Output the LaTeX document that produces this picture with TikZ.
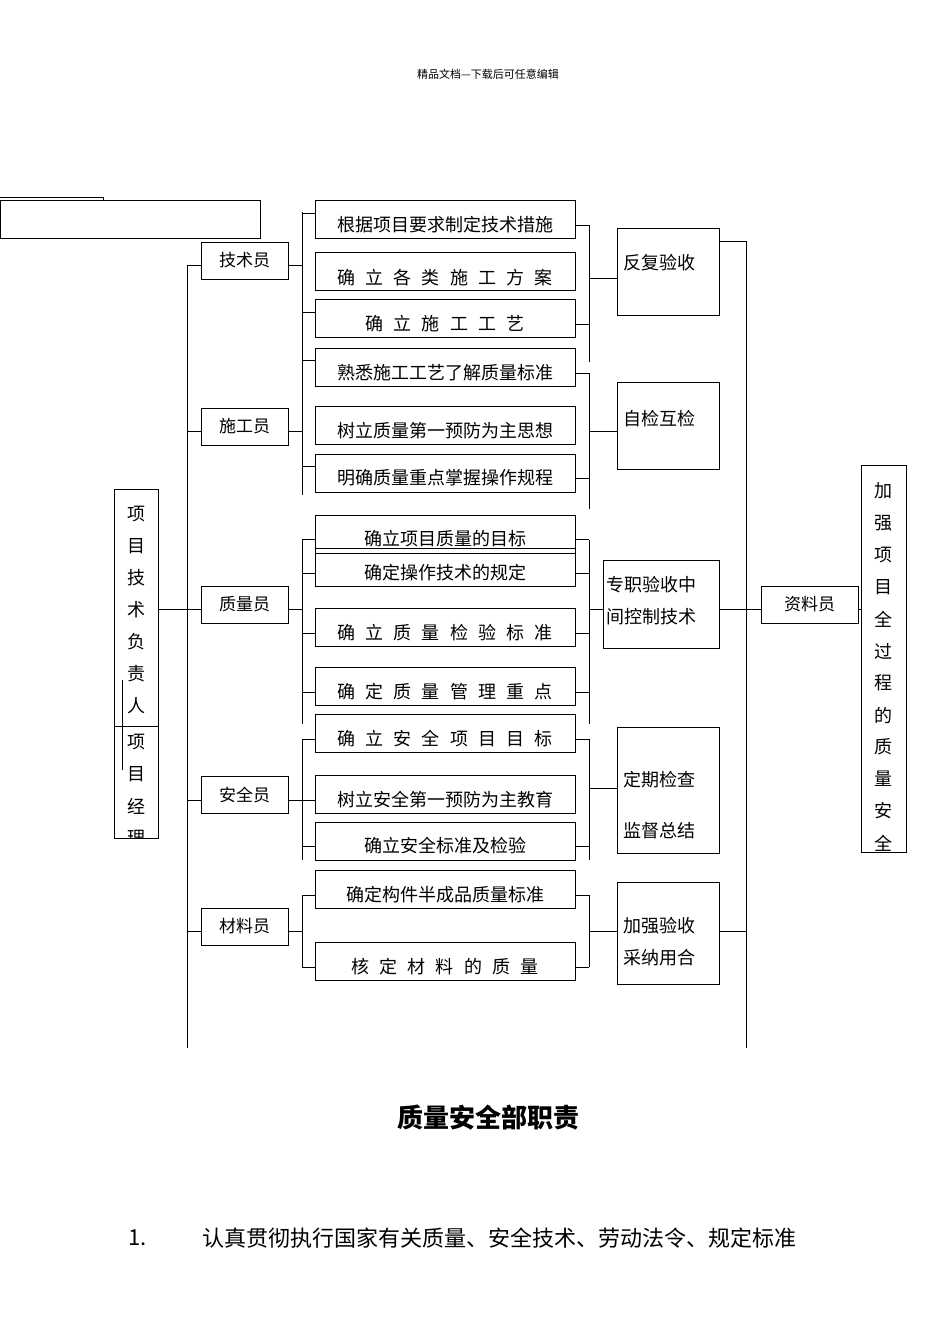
\documentclass[tikz,border=0pt]{standalone}
\usepackage{fontspec}
\setmainfont{Noto Sans CJK SC}
\newfontfamily\cjkls[LetterSpace=57]{Noto Sans CJK SC}
\begin{document}
\begin{tikzpicture}[x=1pt,y=-1pt,line width=0.8pt,
  tbox/.style={draw,minimum width=260pt,minimum height=38pt,inner sep=0},
  rbox/.style={draw,minimum width=87pt,minimum height=37pt,inner sep=0,font=\fontsize{17}{17}\selectfont},
  tt/.style={inner sep=0,font=\fontsize{18}{18}\selectfont},
  ts/.style={inner sep=0,font=\fontsize{18}{18}\cjkls},
  vt/.style={inner sep=0,font=\fontsize{18}{18}\selectfont}]
\useasboundingbox[fill=white] (0,0) rectangle (950,1344);
\newcommand\task[5]{\node[tbox] (#1) at (445,#2+19) {}; \node[#4] (#1t) at (445,#3) {#5};}
\node[inner sep=0,font=\fontsize{11}{11}\selectfont] (hdr) at (488,74) {精品文档---下载后可任意编辑};
% top-left boxes
\draw (0,197) -- (103,197) -- (103,200);
\node[draw,minimum width=260pt,minimum height=38pt,inner sep=0] (tl) at (130,219) {};
% trunks
\draw (187,265) -- (187,1048);
\draw (746,241) -- (746,1048);
% left vertical boxes
\node[draw,minimum width=44pt,minimum height=237pt,inner sep=0] (pm1) at (136,607.5) {};
\node[draw,minimum width=44pt,minimum height=112pt,inner sep=0] (pm2) at (136,782) {};
\foreach \c [count=\i from 0] in {项,目,技,术,负,责,人} \node[vt] (a\i) at (136,514+32*\i) {\c};
\begin{scope}
\clip (114,726) rectangle (158,838);
\foreach \c [count=\i from 0] in {项,目,经,理} \node[vt] (b\i) at (136,742+32*\i) {\c};
\end{scope}
\draw[line width=0.6pt] (122,680) -- (122,770);
\draw (pm1.east |- 0,609) -- (187,609);
% roles
\node[rbox] (r1) at (244.5,260.5) {技术员};
\node[rbox] (r2) at (244.5,426.5) {施工员};
\node[rbox] (r3) at (244.5,604.5) {质量员};
\node[rbox] (r4) at (244.5,794.5) {安全员};
\node[rbox] (r5) at (244.5,926.5) {材料员};
\foreach \r/\y in {r1/265,r2/431,r3/609,r4/800,r5/931} {\draw (187,\y) -- (\r.west |- 0,\y); \draw (\r.east |- 0,\y) -- (302,\y);}
% tasks
\task{t1}{200}{225}{tt}{根据项目要求制定技术措施}
\task{t2}{252}{278}{ts}{确立各类施工方案}
\task{t3}{299}{324}{ts}{确立施工工艺}
\task{t4}{348}{373}{tt}{熟悉施工工艺了解质量标准}
\task{t5}{406}{431}{tt}{树立质量第一预防为主思想}
\task{t6}{454}{478}{tt}{明确质量重点掌握操作规程}
\task{t7}{515}{539}{tt}{确立项目质量的目标}
\task{t8}{548}{573}{tt}{确定操作技术的规定}
\task{t9}{608}{633}{ts}{确立质量检验标准}
\task{t10}{667}{692}{ts}{确定质量管理重点}
\task{t11}{714}{739}{ts}{确立安全项目目标}
\task{t12}{775}{800}{tt}{树立安全第一预防为主教育}
\task{t13}{822}{846}{tt}{确立安全标准及检验}
\task{t14}{870}{895}{tt}{确定构件半成品质量标准}
\task{t15}{942}{967}{ts}{核定材料的质量}
% left branches
\draw (302,212) -- (302,360); \draw (302,360) -- (302,495);
\draw (302,540) -- (302,724); \draw (302,739) -- (302,860); \draw (302,895) -- (302,967);
\foreach \t/\y in {t1/213,t3/312,t4/360,t6/466,t7/539,t8/573,t9/633,t10/692,t11/739,t12/800,t13/846,t14/895,t15/967} \draw (302,\y) -- (\t.west |- 0,\y);
% right branches
\draw (589,225) -- (589,362); \draw (589,373) -- (589,509); \draw (589,540) -- (589,724);
\draw (589,739) -- (589,860); \draw (589,895) -- (589,967);
\foreach \t/\y in {t1/225,t3/324,t4/373,t6/478,t7/539,t8/573,t9/633,t10/692,t11/739,t13/846,t14/895,t15/967} \draw (\t.east |- 0,\y) -- (589,\y);
% result boxes
\node[draw,minimum width=102pt,minimum height=87pt,inner sep=0] (s1) at (668,271.5) {};
\node[tt,anchor=west] (s1t) at (623,263) {反复验收};
\node[draw,minimum width=102pt,minimum height=87pt,inner sep=0] (s2) at (668,425.5) {};
\node[tt,anchor=west] (s2t) at (623,419) {自检互检};
\node[draw,minimum width=116pt,minimum height=88pt,inner sep=0] (s3) at (661,604) {};
\node[tt,anchor=west] (s3a) at (606,585) {专职验收中};
\node[tt,anchor=west] (s3b) at (606,617) {间控制技术};
\node[draw,minimum width=102pt,minimum height=126pt,inner sep=0] (s4) at (668,790) {};
\node[tt,anchor=west] (s4a) at (623,780) {定期检查};
\node[tt,anchor=west] (s4b) at (623,831) {监督总结};
\node[draw,minimum width=102pt,minimum height=102pt,inner sep=0] (s5) at (668,933) {};
\node[tt,anchor=west] (s5a) at (623,926) {加强验收};
\node[tt,anchor=west] (s5b) at (623,958) {采纳用合};
\draw (589,278) -- (s1.west |- 0,278); \draw (s1.east |- 0,241) -- (746,241);
\draw (589,431) -- (s2.west |- 0,431);
\draw (589,609) -- (s3.west |- 0,609); \draw (s3.east |- 0,609) -- (746,609);
\draw (589,788) -- (s4.west |- 0,788);
\draw (589,931) -- (s5.west |- 0,931); \draw (s5.east |- 0,931) -- (746,931);
% 资料员 and right box
\node[draw,minimum width=97pt,minimum height=37pt,inner sep=0,font=\fontsize{17}{17}\selectfont] (zl) at (809.5,604.5) {资料员};
\draw (746,609) -- (zl.west |- 0,609);
\node[draw,minimum width=45pt,minimum height=387pt,inner sep=0] (jq) at (883.5,658.5) {};
\draw (zl.east |- 0,609) -- (jq.west |- 0,609);
\begin{scope}
\clip (861,465) rectangle (906,852);
\foreach \c [count=\i from 0] in {加,强,项,目,全,过,程,的,质,量,安,全} \node[vt] (c\i) at (883.5,491+32*\i) {\c};
\end{scope}
% bottom text
\node[inner sep=0,font=\fontsize{26}{26}\selectfont\bfseries] (title) at (488,1118) {质量安全部职责};
\node[inner sep=0,font=\fontsize{22}{22}\selectfont,anchor=west] (l1n) at (128,1238) {1.};
\node[inner sep=0,font=\fontsize{22}{22}\selectfont,anchor=west] (l1) at (202,1238) {认真贯彻执行国家有关质量、安全技术、劳动法令、规定标准};
\end{tikzpicture}
\end{document}
